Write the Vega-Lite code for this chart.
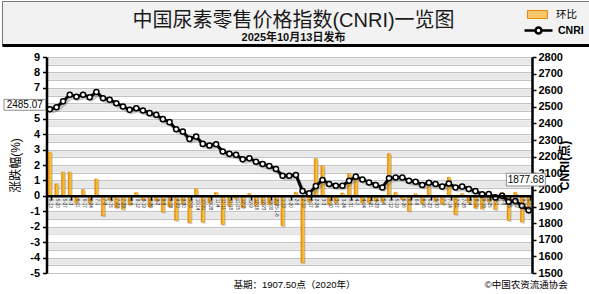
{
  "$schema": "https://vega.github.io/schema/vega-lite/v6.json",
  "background": "white",
  "padding": 0,
  "config": {"font": "Liberation Sans, Noto Sans CJK SC", "view": {"stroke": null}},
  "spacing": 5,
  "bounds": "full",
  "vconcat": [
    {
      "width": 589,
      "height": 44,
      "view": {"fill": "#f2f2f2", "stroke": "#7a7a7a", "strokeWidth": 1},
      "title": {
        "text": "中国尿素零售价格指数(CNRI)一览图",
        "subtitle": "2025年10月13日发布",
        "anchor": "middle",
        "offset": -42,
        "dx": -3,
        "fontSize": 20,
        "fontWeight": "normal",
        "color": "#1a1a1a",
        "subtitleFontSize": 11,
        "subtitleFontWeight": "bold",
        "subtitleColor": "#111111",
        "subtitlePadding": 1
      },
      "data": {"values": [{"a": "环比", "b": "CNRI"}]},
      "mark": {"type": "point", "opacity": 0, "filled": true},
      "encoding": {
        "x": {"field": "a", "type": "nominal", "axis": {"labels": false, "ticks": false, "title": null, "domainColor": "black", "domainWidth": 3}},
        "fill": {"field": "a", "type": "nominal", "scale": {"range": ["#f7c76a"]},
          "legend": {"title": null, "orient": "none", "legendX": 529, "legendY": 7, "symbolType": "M-1.67,-0.67H1.67V0.67H-1.67Z", "symbolSize": 144, "symbolStrokeColor": "#e8890c", "symbolStrokeWidth": 1, "symbolOpacity": 1, "labelFontSize": 10.5, "labelOffset": 12, "labelColor": "black", "labelFontWeight": "normal"}},
        "stroke": {"field": "b", "type": "nominal", "scale": {"range": ["black"]},
          "legend": {"title": null, "orient": "none", "legendX": 529, "legendY": 22, "symbolType": "M-2.33,0H-0.5M0.5,0H2.33M-0.5,0A0.5,0.5,0,1,1,0.5,0A0.5,0.5,0,1,1,-0.5,0Z", "symbolSize": 144, "symbolFillColor": "white", "symbolStrokeWidth": 2.5, "symbolOpacity": 1, "labelFontSize": 10.5, "labelFontWeight": "bold", "labelOffset": 12, "labelColor": "black"}}
      }
    },
    {
      "width": 530,
      "height": 216,
      "view": {"stroke": null},
      "title": {
        "text": "基期：1907.50点（2020年）\u00a0\u00a0\u00a0\u00a0\u00a0\u00a0\u00a0\u00a0\u00a0\u00a0\u00a0\u00a0\u00a0\u00a0\u00a0\u00a0\u00a0\u00a0\u00a0\u00a0\u00a0\u00a0\u00a0\u00a0\u00a0\u00a0\u00a0\u00a0\u00a0\u00a0\u00a0\u00a0\u00a0\u00a0\u00a0\u00a0\u00a0\u00a0\u00a0\u00a0\u00a0\u00a0\u00a0\u00a0\u00a0\u00a0\u00a0\u00a0\u00a0©中国农资流通协会",
        "orient": "bottom",
        "anchor": "start",
        "frame": "bounds",
        "dx": 233,
        "offset": 2,
        "fontSize": 9.5,
        "fontWeight": "normal",
        "color": "black"
      },
      "data": {"values": [
        {"d":"2024-05-13","cnri":2485.07,"pct":2.83},
        {"d":"2024-05-20","cnri":2498,"pct":0.78},
        {"d":"2024-05-27","cnri":2533,"pct":1.54},
        {"d":"2024-06-03","cnri":2573,"pct":1.54},
        {"d":"2024-06-11","cnri":2561,"pct":-0.46},
        {"d":"2024-06-17","cnri":2573,"pct":0.41},
        {"d":"2024-06-24","cnri":2558,"pct":-0.46},
        {"d":"2024-07-01","cnri":2589,"pct":1.1},
        {"d":"2024-07-08","cnri":2552,"pct":-1.3},
        {"d":"2024-07-15","cnri":2543,"pct":-0.29},
        {"d":"2024-07-22","cnri":2522,"pct":-0.78},
        {"d":"2024-07-29","cnri":2502,"pct":-0.88},
        {"d":"2024-08-05","cnri":2482,"pct":-0.59},
        {"d":"2024-08-12","cnri":2492,"pct":0.21},
        {"d":"2024-08-19","cnri":2478,"pct":-0.28},
        {"d":"2024-08-26","cnri":2462,"pct":-0.72},
        {"d":"2024-09-02","cnri":2452,"pct":-0.34},
        {"d":"2024-09-09","cnri":2426,"pct":-1.06},
        {"d":"2024-09-18","cnri":2408,"pct":-0.71},
        {"d":"2024-09-23","cnri":2365,"pct":-1.6},
        {"d":"2024-09-30","cnri":2351,"pct":-0.5},
        {"d":"2024-10-08","cnri":2307,"pct":-1.75},
        {"d":"2024-10-14","cnri":2321,"pct":0.47},
        {"d":"2024-10-21","cnri":2277,"pct":-1.71},
        {"d":"2024-10-28","cnri":2267,"pct":-0.46},
        {"d":"2024-11-04","cnri":2275,"pct":0.23},
        {"d":"2024-11-11","cnri":2231,"pct":-1.86},
        {"d":"2024-11-18","cnri":2217,"pct":-0.67},
        {"d":"2024-11-25","cnri":2211,"pct":-0.2},
        {"d":"2024-12-02","cnri":2184,"pct":-0.78},
        {"d":"2024-12-09","cnri":2190,"pct":0.15},
        {"d":"2024-12-16","cnri":2170,"pct":-0.67},
        {"d":"2024-12-23","cnri":2156,"pct":-0.56},
        {"d":"2024-12-30","cnri":2144,"pct":-0.56},
        {"d":"2025-01-06","cnri":2126,"pct":-0.56},
        {"d":"2025-01-13","cnri":2085,"pct":-1.95},
        {"d":"2025-01-20","cnri":2085,"pct":-0.04},
        {"d":"2025-02-05","cnri":2090,"pct":0.24},
        {"d":"2025-02-10","cnri":1993,"pct":-4.35},
        {"d":"2025-02-17","cnri":1979,"pct":-0.41},
        {"d":"2025-02-24","cnri":2023,"pct":2.42},
        {"d":"2025-03-03","cnri":2060,"pct":1.96},
        {"d":"2025-03-10","cnri":2036,"pct":-0.57},
        {"d":"2025-03-17","cnri":2025,"pct":-0.46},
        {"d":"2025-03-24","cnri":2025,"pct":0.19},
        {"d":"2025-03-31","cnri":2055,"pct":1.45},
        {"d":"2025-04-07","cnri":2080,"pct":1.2},
        {"d":"2025-04-14","cnri":2063,"pct":-0.46},
        {"d":"2025-04-21","cnri":2045,"pct":-0.46},
        {"d":"2025-04-28","cnri":2030,"pct":-0.35},
        {"d":"2025-05-06","cnri":2015,"pct":-0.4},
        {"d":"2025-05-12","cnri":2070,"pct":2.74},
        {"d":"2025-05-19","cnri":2075,"pct":0.23},
        {"d":"2025-05-26","cnri":2075,"pct":-0.24},
        {"d":"2025-06-03","cnri":2055,"pct":-1.0},
        {"d":"2025-06-09","cnri":2049,"pct":0.13},
        {"d":"2025-06-16","cnri":2030,"pct":-0.5},
        {"d":"2025-06-23","cnri":2043,"pct":0.62},
        {"d":"2025-06-30","cnri":2036,"pct":-0.35},
        {"d":"2025-07-07","cnri":2020,"pct":-0.56},
        {"d":"2025-07-14","cnri":2039,"pct":1.21},
        {"d":"2025-07-21","cnri":2015,"pct":-1.21},
        {"d":"2025-07-28","cnri":2020,"pct":0.15},
        {"d":"2025-08-04","cnri":2006,"pct":-0.45},
        {"d":"2025-08-11","cnri":1993,"pct":-0.8},
        {"d":"2025-08-18","cnri":1973,"pct":-0.85},
        {"d":"2025-08-25","cnri":1975,"pct":-0.4},
        {"d":"2025-09-01","cnri":1955,"pct":-0.89},
        {"d":"2025-09-08","cnri":1965,"pct":0.23},
        {"d":"2025-09-15","cnri":1929,"pct":-1.6},
        {"d":"2025-09-22","cnri":1933,"pct":0.23},
        {"d":"2025-09-29","cnri":1905,"pct":-1.7},
        {"d":"2025-10-13","cnri":1877.68,"pct":-1.1}
      ]},
      "encoding": {
        "x": {
          "field": "d", "type": "nominal", "sort": null,
          "scale": {"paddingInner": 0.5, "paddingOuter": 0.25, "range": [44.5, 530]},
          "axis": {
            "orient": "bottom", "offset": -77.14, "title": null, "zindex": 1,
            "domainColor": "black", "domainWidth": 2.5,
            "tickBand": "extent", "tickColor": "black", "tickSize": 4, "tickWidth": 1.5,
            "tickOpacity": {"condition": {"test": "indexof(['2024-05-13','2024-06-03','2024-06-24','2024-07-15','2024-08-05','2024-08-26','2024-09-18','2024-10-08','2024-10-28','2024-11-18','2024-12-09','2024-12-30','2025-01-20','2025-02-17','2025-03-10','2025-03-31','2025-04-21','2025-05-12','2025-06-03','2025-06-23','2025-07-14','2025-08-04','2025-08-25','2025-09-15','2025-10-13'], datum.value) < 0", "value": 0}, "value": 1},
            "labelAngle": 90, "labelFontSize": 4.5, "labelColor": "#222222", "labelPadding": -1.5, "labelOverlap": false, "labelBound": false,
            "labelExpr": "(!isString(datum.value) || datum.extra) ? '' : (datum.value == '2025-01-06' ? '2025-1-6' : toNumber(substring(datum.value, 5, 7)) + '-' + toNumber(substring(datum.value, 8, 10)))",
            "grid": false
          }
        }
      },
      "layer": [
        {
          "mark": {"type": "bar", "fill": "#7a7a7a", "opacity": 0.35, "xOffset": 1.3, "yOffset": 1.3},
          "encoding": {"y": {"field": "pct", "type": "quantitative", "scale": {"domain": [-5, 9], "nice": false}, "axis": null}}
        },
        {
          "mark": {"type": "bar", "stroke": "#d9790a", "strokeWidth": 0.4,
            "fill": {"gradient": "linear", "x1": 0, "x2": 1, "y1": 0, "y2": 0, "stops": [{"offset": 0, "color": "#e07b10"}, {"offset": 0.45, "color": "#f5b21c"}, {"offset": 1, "color": "#fbd748"}]}},
          "encoding": {
            "y": {
              "field": "pct", "type": "quantitative",
              "scale": {"domain": [-5, 9], "nice": false},
              "axis": {
                "orient": "left",
                "offset": -44.5,
                "values": [-5,-4.75,-4.5,-4.25,-4,-3.75,-3.5,-3.25,-3,-2.75,-2.5,-2.25,-2,-1.75,-1.5,-1.25,-1,-0.75,-0.5,-0.25,0,0.25,0.5,0.75,1,1.25,1.5,1.75,2,2.25,2.5,2.75,3,3.25,3.5,3.75,4,4.25,4.5,4.75,5,5.25,5.5,5.75,6,6.25,6.5,6.75,7,7.25,7.5,7.75,8,8.25,8.5,8.75,9],
                "title": "涨跌幅(%)", "titleFontSize": 12, "titleFontWeight": "normal", "titleColor": "black", "titlePadding": 7,
                "labelFontSize": 11, "labelFontWeight": "bold", "labelColor": "black", "labelPadding": 3, "labelOverlap": false,
                "labelExpr": "datum.value == floor(datum.value) ? '' + datum.value : ''",
                "domainColor": "black", "domainWidth": 2.5,
                "tickColor": "black", "tickSize": 4, "tickWidth": 1.5,
                "tickOpacity": {"condition": {"test": "datum.value != floor(datum.value)", "value": 0}, "value": 1},
                "grid": true,
                "gridColor": {"condition": {"test": "datum.value - floor(datum.value) == 0.75", "value": "#e8e8e8"}, "value": "#c3c3c3"},
                "gridWidth": {"condition": {"test": "datum.value * 2 != floor(datum.value * 2)", "value": 6.5}, "value": 1.2},
                "gridOpacity": {"condition": {"test": "datum.value - floor(datum.value) == 0.25", "value": 0}, "value": 1}
              }
            }
          }
        },
        {
          "mark": {"type": "line", "stroke": "#555555", "strokeWidth": 4, "opacity": 0.3, "xOffset": 1.5, "yOffset": 2.5},
          "encoding": {"y": {"field": "cnri", "type": "quantitative", "scale": {"domain": [1500, 2800], "nice": false, "zero": false}, "axis": null}}
        },
        {
          "mark": {"type": "line", "stroke": "black", "strokeWidth": 3,
            "point": {"filled": true, "fill": "white", "stroke": "black", "strokeWidth": 1.5, "size": 26}},
          "encoding": {
            "y": {
              "field": "cnri", "type": "quantitative",
              "scale": {"domain": [1500, 2800], "nice": false, "zero": false},
              "axis": {
                "orient": "right",
                "values": [1500,1600,1700,1800,1900,2000,2100,2200,2300,2400,2500,2600,2700,2800],
                "format": "d",
                "title": "CNRI(点)", "titleFontSize": 12, "titleFontWeight": "bold", "titleColor": "black", "titleAngle": 270, "titlePadding": 9,
                "labelFontSize": 11, "labelFontWeight": "bold", "labelColor": "black", "labelPadding": 2,
                "domainColor": "black", "domainWidth": 2.5,
                "tickColor": "black", "tickSize": 4, "tickWidth": 1.5,
                "grid": false
              }
            }
          }
        },
        {
          "transform": [{"filter": "datum.d == '2024-05-13'"}],
          "mark": {"type": "point", "shape": "M-1,-0.26H1V0.26H-1Z", "size": 1722, "filled": true, "fill": "white", "stroke": "#8c8c8c", "strokeWidth": 1, "opacity": 1, "xOffset": -25.1, "yOffset": -4.5, "clip": false},
          "encoding": {"y": {"field": "cnri", "type": "quantitative", "scale": {"domain": [1500, 2800], "nice": false, "zero": false}, "axis": null}}
        },
        {
          "transform": [{"filter": "datum.d == '2024-05-13'"}],
          "mark": {"type": "text", "fontSize": 10, "color": "black", "xOffset": -25.1, "yOffset": -4.5},
          "encoding": {
            "y": {"field": "cnri", "type": "quantitative", "scale": {"domain": [1500, 2800], "nice": false, "zero": false}, "axis": null},
            "text": {"field": "cnri", "type": "quantitative", "format": ".2f"}
          }
        },
        {
          "transform": [{"filter": "datum.d == '2025-10-13'"}],
          "mark": {"type": "point", "shape": "M-1,-0.326H1V0.326H-1Z", "size": 1521, "filled": true, "fill": "white", "stroke": "#8c8c8c", "strokeWidth": 1, "opacity": 1, "xOffset": -2.8, "yOffset": -30.6, "clip": false},
          "encoding": {"y": {"field": "cnri", "type": "quantitative", "scale": {"domain": [1500, 2800], "nice": false, "zero": false}, "axis": null}}
        },
        {
          "transform": [{"filter": "datum.d == '2025-10-13'"}],
          "mark": {"type": "text", "fontSize": 10, "color": "black", "xOffset": -2.8, "yOffset": -30.6},
          "encoding": {
            "y": {"field": "cnri", "type": "quantitative", "scale": {"domain": [1500, 2800], "nice": false, "zero": false}, "axis": null},
            "text": {"field": "cnri", "type": "quantitative", "format": ".2f"}
          }
        }
      ],
      "resolve": {"scale": {"y": "independent"}, "axis": {"y": "independent"}}
    }
  ]
}
